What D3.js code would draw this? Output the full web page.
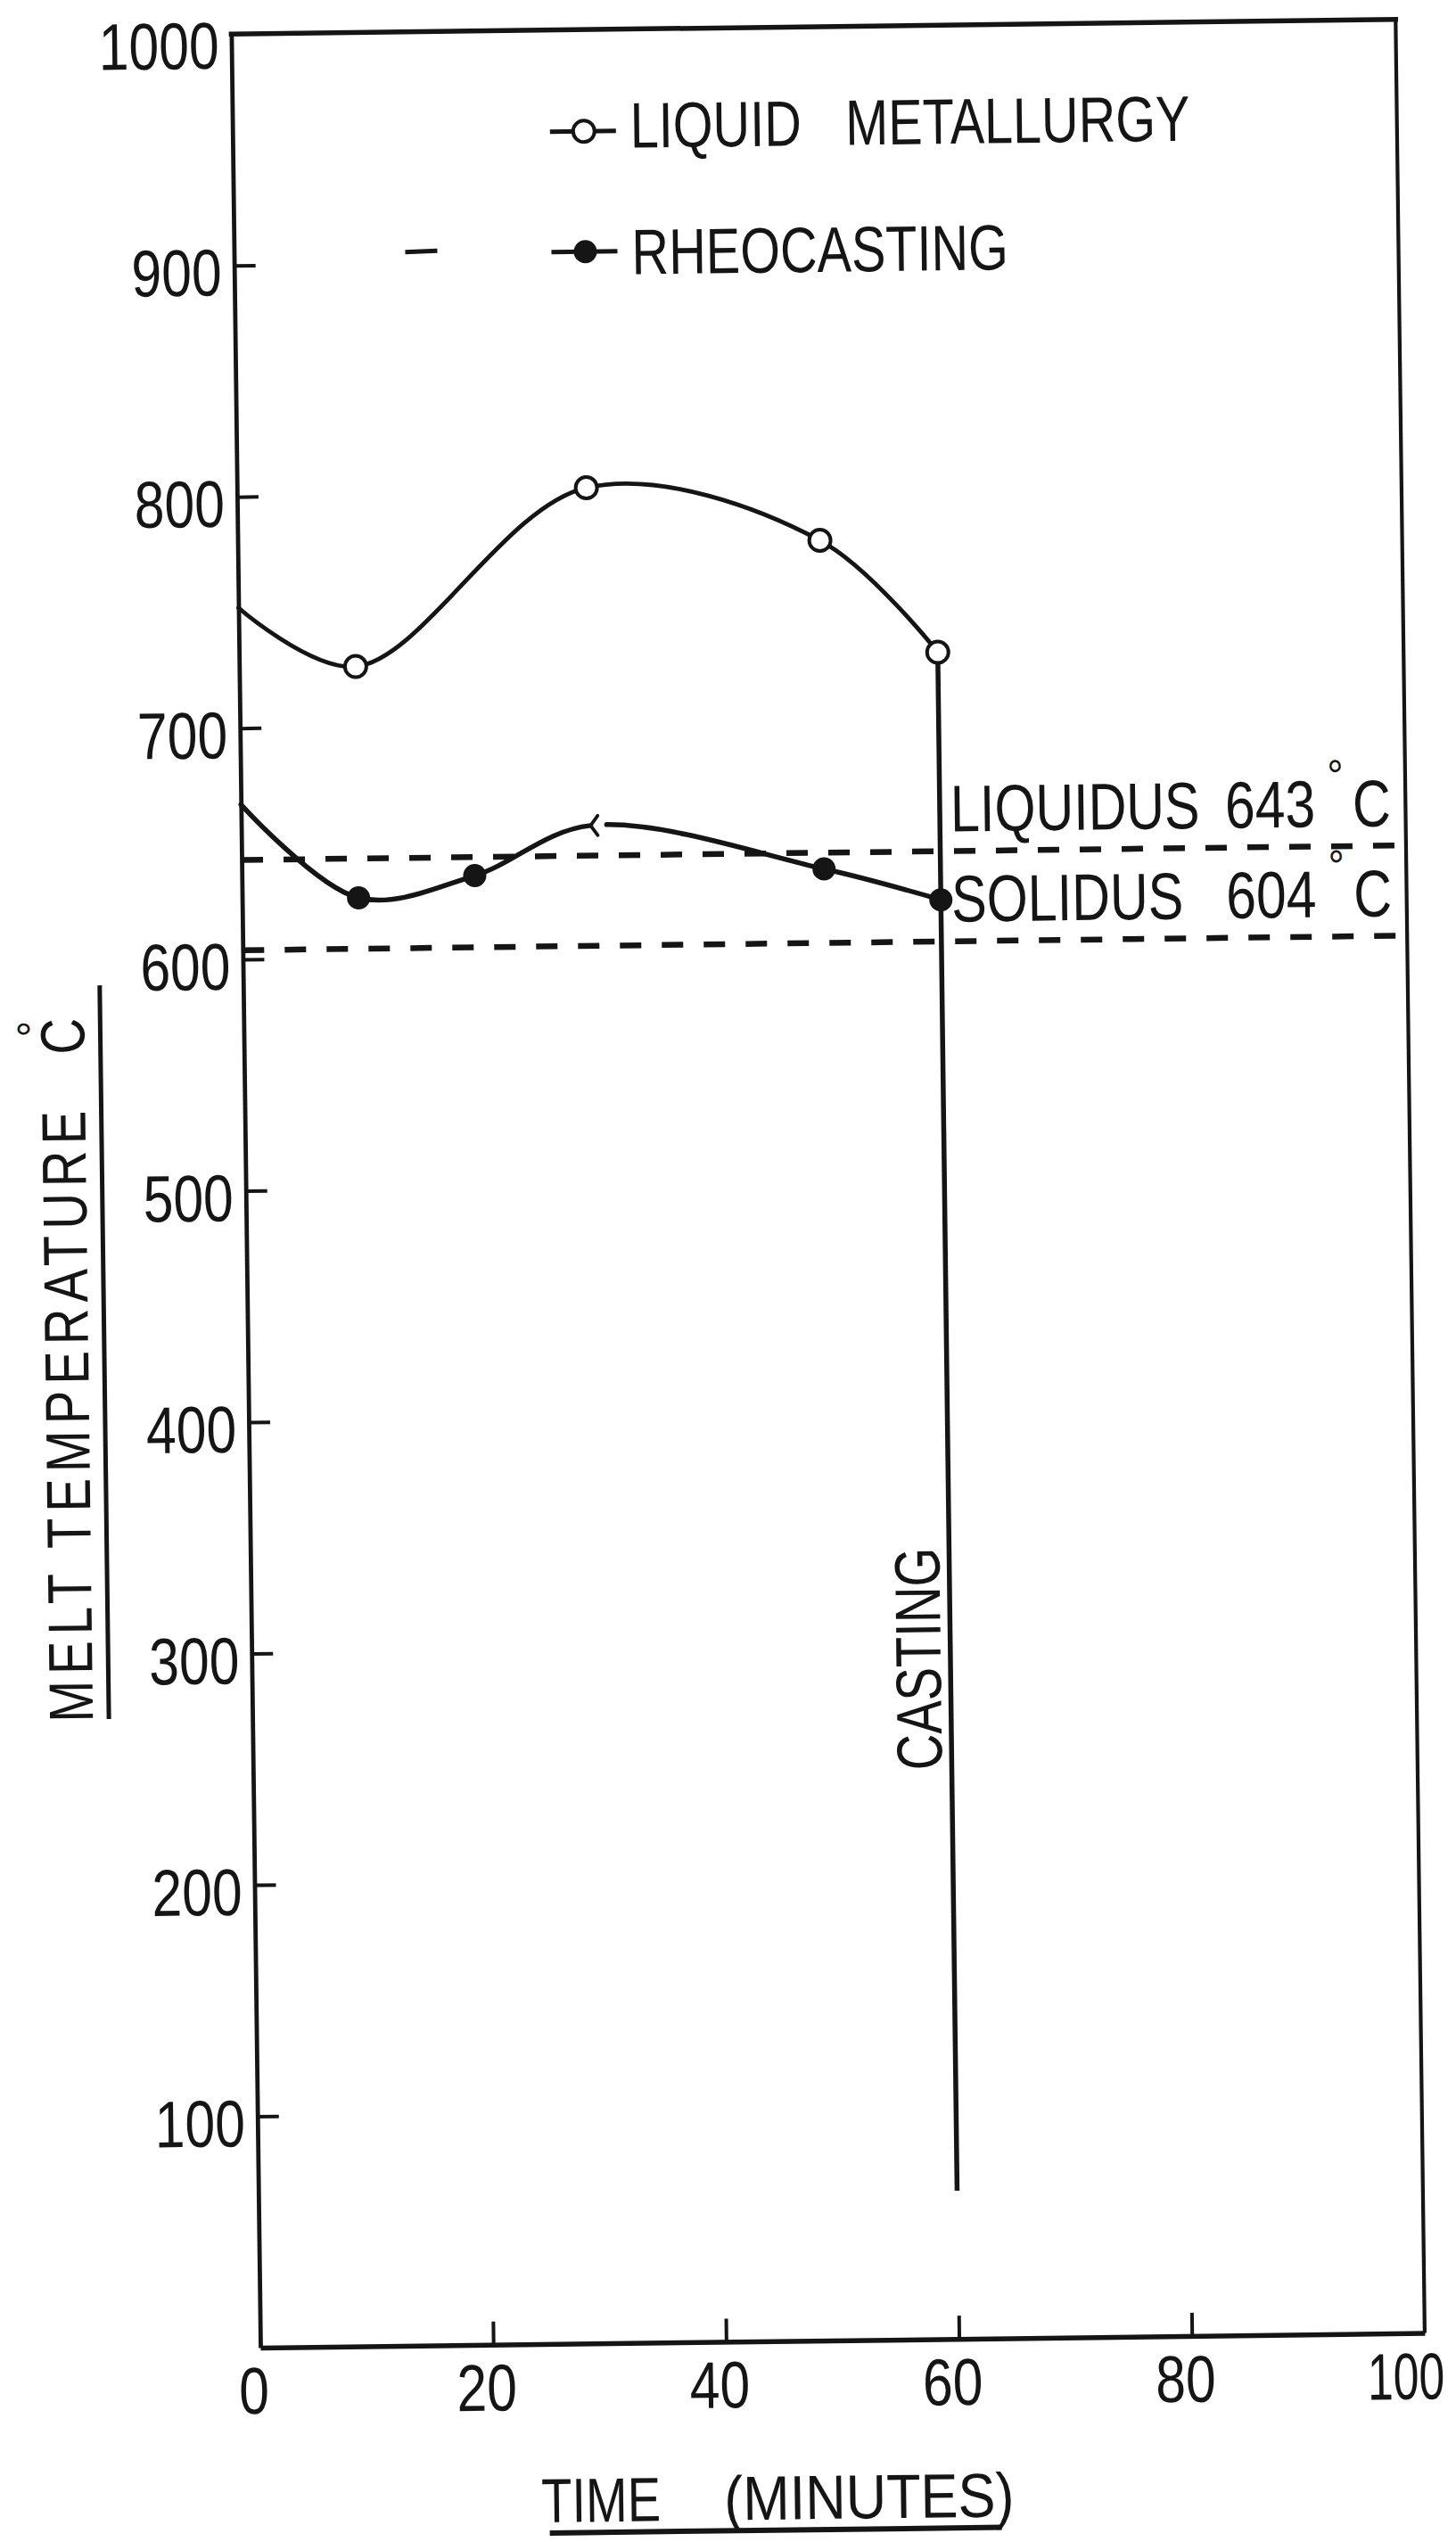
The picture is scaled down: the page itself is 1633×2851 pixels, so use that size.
<!DOCTYPE html>
<html>
<head>
<meta charset="utf-8">
<script src="https://cdn.jsdelivr.net/npm/d3@7"></script>
<style>
  html, body { margin: 0; padding: 0; background: #fff; }
  svg { display: block; }
</style>
</head>
<body>
<svg id="chart" width="1633" height="2851"></svg>
<script>
// Melt temperature against time: liquid metallurgy vs. rheocasting

// Liquid metallurgy (open circles); the t = 0 knot starts the curve without a marker
const lmTime   = [0, 10, 30, 50, 60];
const lmTemp   = [752, 726, 802, 778, 729];
const lmMarked = [false, true, true, true, true];

// Rheocasting (filled dots); 'hook' is the little fork where the curve is broken
const rcTime = [0, 10, 20, 30, 50, 60];
const rcTemp = [667, 626, 635, 656, 636, 622];
const rcMark = ['none', 'dot', 'dot', 'hook', 'dot', 'dot'];

// Reference temperatures
const levelNames = ['LIQUIDUS', 'SOLIDUS'];
const levelTemps = [643, 604];

// Pouring: vertical drop at the casting time
const castingTime = 60;
const castingEndTemp = 64;

// Axes
const xTicks = [0, 20, 40, 60, 80, 100];
const xTickLabels = ['0', '20', '40', '60', '80', '100'];
const yTicks = [100, 200, 300, 400, 500, 600, 700, 800, 900, 1000];
const yTickLabels = ['100', '200', '300', '400', '500', '600', '700', '800', '900', '1000'];

const legendNames = ['LIQUID METALLURGY', 'RHEOCASTING'];

// ---------------------------------------------------------------------------
const W = 1633, H = 2851;
const INK = '#151515';
const FONT = "'Liberation Sans', Arial, sans-serif";
const TICK_SX = 0.82;

const x = d3.scaleLinear().domain([0, 100]).range([292, 1598]);
const y = d3.scaleLinear().domain([0, 1000]).range([2633, 38]);

const svg = d3.select('#chart');
svg.append('rect').attr('width', W).attr('height', H).attr('fill', '#fff');

// the sheet sits slightly askew
const g = svg.append('g').attr('transform', `rotate(-0.72, ${x(0)}, ${y(0)})`);

function label(parent, str, px, py, o = {}) {
  const size = o.size || 72, sx = o.sx || 0.8;
  let tf = `translate(${px},${py})`;
  if (o.rot) tf += ` rotate(${o.rot})`;
  tf += ` scale(${sx},1)`;
  return parent.append('text')
    .attr('transform', tf)
    .attr('text-anchor', o.anchor || 'start')
    .attr('font-family', FONT)
    .attr('font-size', size)
    .attr('letter-spacing', o.ls || 0)
    .attr('fill', INK)
    .text(str);
}

// ---- frame -----------------------------------------------------------------
g.append('line')
  .attr('x1', x(0)).attr('x2', x(100)).attr('y1', y(1000)).attr('y2', y(1000))
  .attr('stroke', INK).attr('stroke-width', 5.5).attr('stroke-linecap', 'square');
g.append('line')
  .attr('x1', x(100)).attr('x2', x(100)).attr('y1', y(1000)).attr('y2', y(0))
  .attr('stroke', INK).attr('stroke-width', 4.2);

// ---- y axis (ticks point inward, labels outside) ---------------------------
const yAxis = d3.axisLeft(y)
  .tickValues(yTicks)
  .tickFormat(d => yTickLabels[yTicks.indexOf(d)])
  .tickSize(-24).tickSizeOuter(0);
const gy = g.append('g').attr('transform', `translate(${x(0)},0)`).call(yAxis);
gy.select('.domain').attr('stroke', INK).attr('stroke-width', 4.8);
gy.selectAll('.tick line')
  .attr('stroke', INK).attr('stroke-width', 4)
  .attr('display', d => d >= 1000 ? 'none' : null);
gy.selectAll('.tick text')
  .attr('fill', INK).attr('font-family', FONT).attr('font-size', 74)
  .attr('x', -14 / TICK_SX).attr('dy', d => d >= 1000 ? 38 : 33)
  .attr('transform', `scale(${TICK_SX},1)`);

// ---- x axis ----------------------------------------------------------------
const xAxis = d3.axisBottom(x)
  .tickValues(xTicks)
  .tickFormat(d => xTickLabels[xTicks.indexOf(d)])
  .tickSize(-26).tickSizeOuter(0);
const gx = g.append('g').attr('transform', `translate(0,${y(0)})`).call(xAxis);
gx.select('.domain').attr('stroke', INK).attr('stroke-width', 5.5);
gx.selectAll('.tick line')
  .attr('stroke', INK).attr('stroke-width', 4)
  .attr('display', d => (d === 0 || d === 100) ? 'none' : null);
gx.selectAll('.tick text')
  .attr('fill', INK).attr('font-family', FONT).attr('font-size', 74)
  .attr('y', 74).attr('dy', 0)
  .each(function (d) {
    // the three-digit end label is lettered tighter so it stays on the sheet
    const sx = d >= 100 ? 0.7 : TICK_SX;
    const off = d >= 100 ? -22 : -8;
    d3.select(this).attr('x', off / sx).attr('transform', `scale(${sx},1)`);
  });

// ---- liquidus / solidus dashed lines --------------------------------------
levelTemps.forEach((t, i) => {
  g.append('line')
    .attr('x1', x(0)).attr('x2', x(100)).attr('y1', y(t)).attr('y2', y(t))
    .attr('stroke', INK).attr('stroke-width', 6.5)
    .attr('stroke-dasharray', '24 23');
  const x0 = x(castingTime) + 12, base = y(t) - 22;
  label(g, levelNames[i], x0, base, { size: 74, sx: 0.8 });
  label(g, String(t), x0 + 308, base, { size: 74, sx: 0.82 });
  label(g, '\u00B0', x0 + 423, base - 40, { size: 50, sx: 0.9 });
  label(g, 'C', x0 + 451, base, { size: 74, sx: 0.8 });
});

// ---- curves ----------------------------------------------------------------
const curveLine = d3.line()
  .x(d => x(d.t)).y(d => y(d.v))
  .curve(d3.curveCatmullRom.alpha(0.5));

const lmData = lmTime.map((t, i) => ({ t, v: lmTemp[i], marked: lmMarked[i] }));
const rcData = rcTime.map((t, i) => ({ t, v: rcTemp[i], mark: rcMark[i] }));

g.append('path')
  .attr('d', curveLine(lmData))
  .attr('fill', 'none').attr('stroke', INK).attr('stroke-width', 4.8)
  .attr('stroke-linecap', 'round');

const rcPath = g.append('path')
  .attr('d', curveLine(rcData))
  .attr('fill', 'none').attr('stroke', INK).attr('stroke-width', 5.5)
  .attr('stroke-linecap', 'round');

// break the rheocasting curve just after the hooked point
function lengthAtX(node, px) {
  let lo = 0, hi = node.getTotalLength();
  for (let k = 0; k < 40; k++) {
    const mid = (lo + hi) / 2;
    if (node.getPointAtLength(mid).x < px) lo = mid; else hi = mid;
  }
  return lo;
}
const hook = rcData.find(d => d.mark === 'hook');
if (hook) {
  const node = rcPath.node();
  const total = node.getTotalLength();
  const l1 = lengthAtX(node, x(hook.t));
  const l2 = lengthAtX(node, x(hook.t) + 18);
  rcPath.attr('stroke-dasharray', `${l1} ${l2 - l1} ${total}`);
  const hx = x(hook.t), hy = y(hook.v);
  g.append('path')
    .attr('d', `M${hx + 8},${hy - 11} L${hx},${hy} L${hx + 8},${hy + 11}`)
    .attr('fill', 'none').attr('stroke', INK).attr('stroke-width', 3.8)
    .attr('stroke-linecap', 'round');
}

// ---- casting drop ----------------------------------------------------------
const lmAtCast = lmTemp[lmTime.indexOf(castingTime)];
g.append('line')
  .attr('x1', x(castingTime)).attr('x2', x(castingTime))
  .attr('y1', y(lmAtCast)).attr('y2', y(castingEndTemp))
  .attr('stroke', INK).attr('stroke-width', 5.5);
label(g, 'CASTING', x(castingTime) - 11, 1870, { rot: -90, anchor: 'middle', size: 72, sx: 0.78 });

// ---- markers ---------------------------------------------------------------
g.selectAll('circle.lm')
  .data(lmData.filter(d => d.marked))
  .join('circle').attr('class', 'lm')
  .attr('cx', d => x(d.t)).attr('cy', d => y(d.v)).attr('r', 12)
  .attr('fill', '#fff').attr('stroke', INK).attr('stroke-width', 4);

g.selectAll('circle.rc')
  .data(rcData.filter(d => d.mark === 'dot'))
  .join('circle').attr('class', 'rc')
  .attr('cx', d => x(d.t)).attr('cy', d => y(d.v)).attr('r', 13)
  .attr('fill', INK);

// ---- legend ----------------------------------------------------------------
const legend = g.append('g');
[
  { cy: 152, base: 171, open: true },
  { cy: 287, base: 313, open: false }
].forEach((row, i) => {
  legend.append('line')
    .attr('x1', 648).attr('x2', 722).attr('y1', row.cy).attr('y2', row.cy)
    .attr('stroke', INK).attr('stroke-width', 5);
  legend.append('circle')
    .attr('cx', 686).attr('cy', row.cy).attr('r', row.open ? 12 : 13)
    .attr('fill', row.open ? '#fff' : INK)
    .attr('stroke', INK).attr('stroke-width', row.open ? 4 : 0);
  const words = legendNames[i].split(' ');
  const t = label(legend, '', 738, row.base, { size: 72, sx: 0.8 });
  t.append('tspan').attr('x', 0).text(words[0]);
  if (words[1]) t.append('tspan').attr('x', 302).text(words[1]);
});
legend.append('line')
  .attr('x1', 484).attr('x2', 520).attr('y1', 285).attr('y2', 284)
  .attr('stroke', INK).attr('stroke-width', 5);

// ---- axis titles -----------------------------------------------------------
label(g, 'MELT TEMPERATURE', 113, 1929, { rot: -90, size: 70, sx: 0.8, ls: 9 });
label(g, 'C', 113, 1180, { rot: -90, size: 70, sx: 0.8 });
label(g, '\u00B0', 73, 1160, { rot: -90, size: 50, sx: 0.9 });
g.append('line')
  .attr('x1', 131).attr('x2', 131).attr('y1', 1103).attr('y2', 1926)
  .attr('stroke', INK).attr('stroke-width', 5);

label(g, 'TIME', 605, 2833, { size: 70, sx: 0.8 });
label(g, '(MINUTES)', 810, 2833, { size: 70, sx: 0.9 });
g.append('line')
  .attr('x1', 614).attr('x2', 1121).attr('y1', 2845).attr('y2', 2845)
  .attr('stroke', INK).attr('stroke-width', 6);
</script>
</body>
</html>
